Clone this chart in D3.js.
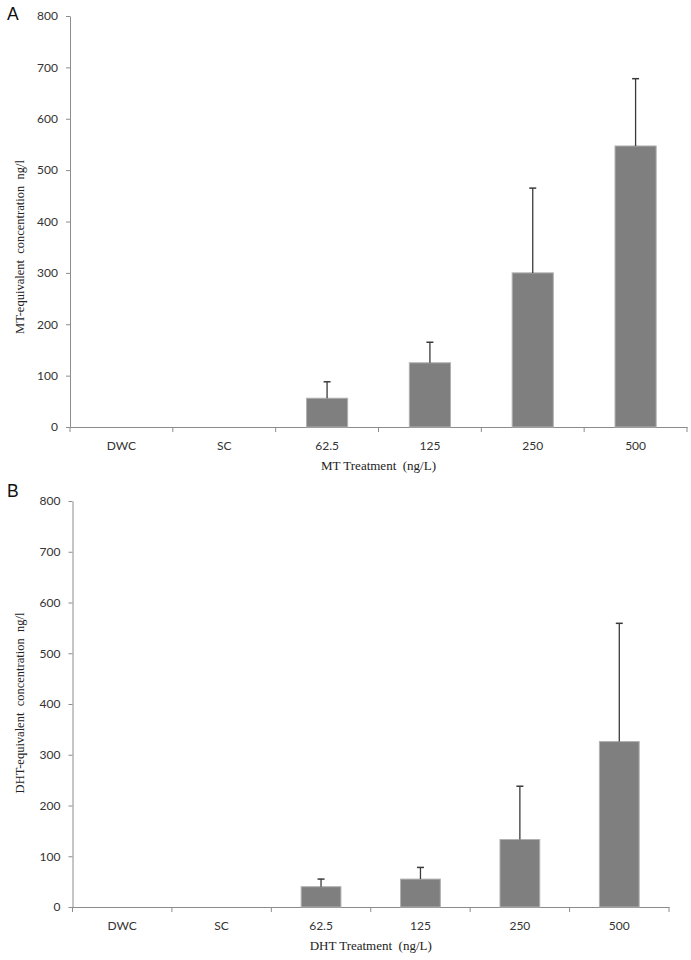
<!DOCTYPE html>
<html><head><meta charset="utf-8">
<script src="https://cdn.jsdelivr.net/npm/d3@7"></script>
<style>body{margin:0;background:#fff}svg{display:block}</style>
</head><body>
<svg id="c" width="691" height="960"></svg>
<script>
const categories = ["DWC","SC","62.5","125","250","500"];
const yTicks = [0,100,200,300,400,500,600,700,800];
const mtMeans = [0,0,56,125,300,547];
const mtSD    = [0,0,32,40,165,131];
const dhtMeans = [0,0,40,55,133,326];
const dhtSD    = [0,0,15,23,105,233];

const svg = d3.select("#c");
const panels = [
  {letter:"A", ly:20, means:mtMeans, sd:mtSD, x0:70, x1:687, y0:427, y1:16,
   ytitle:"MT-equivalent  concentration  ng/l", ytc:247, xtitle:"MT Treatment  (ng/L)"},
  {letter:"B", ly:497, means:dhtMeans, sd:dhtSD, x0:72.5, x1:669, y0:907, y1:501,
   ytitle:"DHT-equivalent  concentration  ng/l", ytc:703, xtitle:"DHT Treatment  (ng/L)"}
];
const axisCol = "#8c8c8c";
panels.forEach(p => {
  const g = svg.append("g");
  const x = d3.scaleBand().domain(categories).range([p.x0,p.x1]).paddingInner(0.6).paddingOuter(0.3);
  const xb = d3.scaleBand().domain(categories).range([p.x0,p.x1]);
  const y = d3.scaleLinear().domain([0,800]).range([p.y0,p.y1]);

  const ya = g.append("g").attr("transform",`translate(${p.x0},0)`)
    .call(d3.axisLeft(y).tickValues(yTicks).tickSize(4).tickSizeOuter(0).tickPadding(8));
  ya.select(".domain").attr("stroke",axisCol);
  ya.selectAll(".tick line").attr("stroke",axisCol);
  ya.selectAll(".tick text").attr("font-family","Lato, 'Open Sans', sans-serif").attr("font-size",12).attr("fill","#333");

  const xa = g.append("g").attr("transform",`translate(0,${p.y0})`)
    .call(d3.axisBottom(xb).tickSize(0).tickPadding(14));
  xa.select(".domain").attr("stroke",axisCol);
  xa.selectAll(".tick text").attr("font-family","Lato, 'Open Sans', sans-serif").attr("font-size",12).attr("fill","#333");
  g.selectAll(".bt").data(categories.concat(["end"])).enter().append("line")
    .attr("x1",(d,i)=>p.x0 + i*xb.bandwidth()).attr("x2",(d,i)=>p.x0 + i*xb.bandwidth())
    .attr("y1",p.y0).attr("y2",p.y0+5).attr("stroke",axisCol);

  const data = categories.map((c,i)=>({c, v:p.means[i], e:p.sd[i]})).filter(d=>d.v>0);
  g.selectAll(".bar").data(data).enter().append("rect")
    .attr("x",d=>x(d.c)).attr("width",x.bandwidth())
    .attr("y",d=>y(d.v)).attr("height",d=>y(0)-y(d.v))
    .attr("fill","#7f7f7f").attr("stroke","#b0b0b0").attr("stroke-width",1);
  g.selectAll(".err").data(data).enter().append("line")
    .attr("x1",d=>x(d.c)+x.bandwidth()/2).attr("x2",d=>x(d.c)+x.bandwidth()/2)
    .attr("y1",d=>y(d.v)).attr("y2",d=>y(d.v+d.e)).attr("stroke","#3a3a3a").attr("stroke-width",1.3);
  g.selectAll(".cap").data(data).enter().append("line")
    .attr("x1",d=>x(d.c)+x.bandwidth()/2-3.5).attr("x2",d=>x(d.c)+x.bandwidth()/2+3.5)
    .attr("y1",d=>y(d.v+d.e)).attr("y2",d=>y(d.v+d.e)).attr("stroke","#3a3a3a").attr("stroke-width",1.5);

  g.append("text").attr("transform",`translate(24,${p.ytc}) rotate(-90)`)
    .attr("text-anchor","middle").attr("font-family","'Liberation Serif', 'Times New Roman', serif")
    .attr("font-size",12.5).attr("fill","#222").style("white-space","pre").text(p.ytitle);
  g.append("text").attr("x",(p.x0+p.x1)/2).attr("y",p.y0+43)
    .attr("text-anchor","middle").attr("font-family","'Liberation Serif', 'Times New Roman', serif")
    .attr("font-size",13).attr("fill","#222").style("white-space","pre").text(p.xtitle);
  g.append("text").attr("x",7).attr("y",p.ly).attr("font-family","'Liberation Sans', Arial, sans-serif")
    .attr("font-size",17.5).attr("fill","#111").text(p.letter);
});
</script>
</body></html>
